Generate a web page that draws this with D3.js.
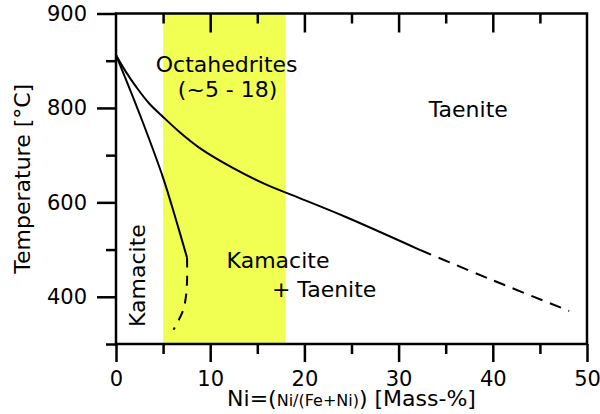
<!DOCTYPE html>
<html>
<head>
<meta charset="utf-8">
<script src="https://cdn.jsdelivr.net/npm/d3@7"></script>
<style>
  body { margin: 0; background: #fff; }
  text { font-family: "DejaVu Sans", sans-serif; fill: #000; }
</style>
</head>
<body>
<div id="chart"></div>
<script>
// Chart values (Ni mass-%, temperature in degrees C)
var taeniteSolid = [[0, 912], [1, 878], [2.2, 843], [3.5, 810], [5, 781], [6.8, 748], [8.9, 715], [12.4, 673], [15.9, 638], [19.5, 609], [24.4, 569], [32.3, 499]];
var taeniteDashed = [[32.3, 499], [40, 435], [48.1, 370]];
var kamaciteSolid = [[0, 912], [2.55, 785], [5, 652], [6.37, 563], [7.54, 483]];
var kamaciteDashed = [[7.54, 483], [7.55, 440], [7.45, 405], [7.1, 370], [6.1, 330]];
var octahedriteRange = [5, 18];

var xMajorTicks = [0, 10, 20, 30, 40, 50];
var xMinorTicks = [5, 15, 25, 35, 45];
var yMajorTicks = [400, 600, 800, 1000];
var yMajorLabels = ["400", "600", "800", "900"];
var yMinorTicks = [300, 500, 700, 900];

// SVG area
var svgWidth = 600;
var svgHeight = 414;

var plot = { left: 116, right: 587, top: 13.5, bottom: 344 };

var svg = d3.select("#chart")
    .append("svg")
    .attr("width", svgWidth)
    .attr("height", svgHeight);

// Scales
var xScale = d3.scaleLinear().domain([0, 50]).range([plot.left, plot.right]);
var yScale = d3.scaleLinear().domain([300, 1000]).range([plot.bottom, plot.top]);

// Octahedrite band
svg.append("rect")
    .attr("x", xScale(octahedriteRange[0]))
    .attr("y", plot.top)
    .attr("width", xScale(octahedriteRange[1]) - xScale(octahedriteRange[0]))
    .attr("height", plot.bottom - plot.top)
    .attr("fill", "#f0ff52");

// Axes helper
function styleAxis(g) {
    g.select(".domain").remove();
    g.selectAll(".tick line").attr("stroke", "#000").attr("stroke-width", 2.5);
    g.selectAll(".tick text")
        .style("font-family", "DejaVu Sans, sans-serif")
        .style("font-size", "21px")
        .attr("fill", "#000");
}

// Left axis
svg.append("g")
    .attr("transform", "translate(" + plot.left + ",0)")
    .call(d3.axisLeft(yScale).tickValues(yMajorTicks).tickSize(19).tickPadding(10)
        .tickFormat(function (d, i) { return yMajorLabels[i]; }))
    .call(styleAxis);

svg.append("g")
    .attr("transform", "translate(" + plot.left + ",0)")
    .call(d3.axisLeft(yScale).tickValues(yMinorTicks).tickSize(10).tickFormat(""))
    .call(styleAxis);

// Bottom axis
svg.append("g")
    .attr("transform", "translate(0," + plot.bottom + ")")
    .call(d3.axisBottom(xScale).tickValues(xMajorTicks).tickSize(18).tickPadding(9))
    .call(styleAxis);

svg.append("g")
    .attr("transform", "translate(0," + plot.bottom + ")")
    .call(d3.axisBottom(xScale).tickValues(xMinorTicks).tickSize(10).tickFormat(""))
    .call(styleAxis);

// Top inner ticks
svg.append("g")
    .attr("transform", "translate(0," + plot.top + ")")
    .call(d3.axisBottom(xScale).tickValues(xMajorTicks.slice(1, -1)).tickSize(19).tickFormat(""))
    .call(styleAxis);

svg.append("g")
    .attr("transform", "translate(0," + plot.top + ")")
    .call(d3.axisBottom(xScale).tickValues(xMinorTicks).tickSize(10).tickFormat(""))
    .call(styleAxis);

// Frame
svg.append("rect")
    .attr("x", plot.left)
    .attr("y", plot.top)
    .attr("width", plot.right - plot.left)
    .attr("height", plot.bottom - plot.top)
    .attr("fill", "none")
    .attr("stroke", "#000")
    .attr("stroke-width", 2.5);

// Phase boundaries
var line = d3.line()
    .x(function (d) { return xScale(d[0]); })
    .y(function (d) { return yScale(d[1]); })
    .curve(d3.curveCatmullRom);

function drawCurve(data, dash) {
    svg.append("path")
        .datum(data)
        .attr("d", line)
        .attr("fill", "none")
        .attr("stroke", "#000")
        .attr("stroke-width", 2)
        .attr("stroke-dasharray", dash);
}

drawCurve(taeniteSolid, null);
drawCurve(taeniteDashed, "12,8");
drawCurve(kamaciteSolid, null);
drawCurve(kamaciteDashed, "10,8");

// Region labels
function label(text, x, y, anchor) {
    return svg.append("text")
        .attr("x", x)
        .attr("y", y)
        .attr("text-anchor", anchor || "middle")
        .style("font-size", "22px")
        .text(text);
}

label("Octahedrites", xScale(11.75), yScale(877));
label("(~5 - 18)", xScale(11.85), yScale(823));
label("Taenite", xScale(37.4), yScale(780));
label("Kamacite", xScale(17.2), yScale(461));
label("+ Taenite", xScale(22.1), yScale(400));

svg.append("text")
    .attr("transform", "translate(" + xScale(3.1) + "," + yScale(445) + ") rotate(-90)")
    .attr("text-anchor", "middle")
    .style("font-size", "22px")
    .text("Kamacite");

// Axis titles
svg.append("text")
    .attr("transform", "translate(30," + ((plot.top + plot.bottom) / 2) + ") rotate(-90)")
    .attr("text-anchor", "middle")
    .style("font-size", "22px")
    .text("Temperature [°C]");

var xTitle = svg.append("text")
    .attr("x", (plot.left + plot.right) / 2)
    .attr("y", 406)
    .attr("text-anchor", "middle")
    .style("font-size", "22px");
xTitle.append("tspan").text("Ni=(");
xTitle.append("tspan").style("font-size", "16px").text("Ni/(Fe+Ni)");
xTitle.append("tspan").text(") [Mass-%]");
</script>
</body>
</html>
